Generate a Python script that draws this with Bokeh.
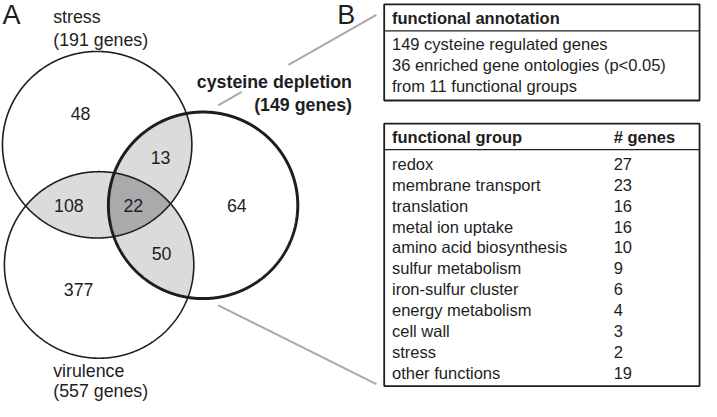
import numpy as np
from bokeh.plotting import figure
from bokeh.models import Range1d
from bokeh.core.properties import value
from bokeh.embed import file_html
from bokeh.resources import INLINE

# ---------------- data ----------------
set_names = ["stress", "virulence", "cysteine depletion"]
set_sizes = [191, 557, 149]
region_names = ["stress only", "stress & cysteine", "stress & virulence",
                "all three", "cysteine only", "virulence & cysteine", "virulence only"]
region_counts = [48, 13, 108, 22, 64, 50, 377]
annotation_title = "functional annotation"
annotation_lines = ["149 cysteine regulated genes",
                    "36 enriched gene ontologies (p<0.05)",
                    "from 11 functional groups"]
group_header = ["functional group", "# genes"]
groups = ["redox", "membrane transport", "translation", "metal ion uptake",
          "amino acid biosynthesis", "sulfur metabolism", "iron-sulfur cluster",
          "energy metabolism", "cell wall", "stress", "other functions"]
group_genes = [27, 23, 16, 16, 10, 9, 6, 4, 3, 2, 19]

# ---------------- layout ----------------
FONT = value("Liberation Sans")
INK = "#1e1e1e"
LIGHT = "#dbdbdc"
DARK = "#aaaaac"
LINKGRAY = "#a9a9a9"

# circle geometry (stress, virulence, cysteine)
centers = [(98.0, 150.0), (100.0, 275.0), (206.5, 213.0)]
R = 97.0

p = figure(width=701, height=401, output_backend="svg", toolbar_location=None,
           x_range=Range1d(-1, 717), y_range=Range1d(417, 0), min_border=0)
p.axis.visible = False
p.grid.visible = False
p.outline_line_color = None
p.background_fill_color = "white"
p.border_fill_color = "white"

theta = np.linspace(0, 2 * np.pi, 1440, endpoint=False)


def circle_pts(i):
    cx, cy = centers[i]
    return cx + R * np.cos(theta), cy + R * np.sin(theta)


def region(idx):
    xs, ys = [], []
    for i in idx:
        px, py = circle_pts(i)
        keep = np.ones_like(px, dtype=bool)
        for j in idx:
            if j == i:
                continue
            cx, cy = centers[j]
            keep &= (px - cx) ** 2 + (py - cy) ** 2 <= R * R + 0.5
        xs.append(px[keep]); ys.append(py[keep])
    xs = np.concatenate(xs); ys = np.concatenate(ys)
    mx, my = xs.mean(), ys.mean()
    order = np.argsort(np.arctan2(ys - my, xs - mx))
    return xs[order], ys[order]


for pair in [(0, 2), (0, 1), (1, 2)]:
    rx, ry = region(pair)
    p.patch(rx, ry, fill_color=LIGHT, line_color=None)
rx, ry = region((0, 1, 2))
p.patch(rx, ry, fill_color=DARK, line_color=None)

widths = [1.6, 1.6, 3.0]
for i in range(3):
    cx, cy = circle_pts(i)
    p.line(np.append(cx, cx[0]), np.append(cy, cy[0]), line_color=INK,
           line_width=widths[i])

VF = value("17.8px")

# region counts
region_x = [81, 163, 69, 135, 241, 164, 79]
region_y = [117, 163, 213, 213, 213, 263, 301]
p.text(region_x, region_y, text=[str(c) for c in region_counts], text_align="center",
       text_baseline="middle", text_font=FONT, text_font_size=VF, text_color=INK)

# set labels
p.text([53, 53], [17, 41], text=[set_names[0], f"({set_sizes[0]} genes)"],
       text_align="left", text_baseline="middle", text_font=FONT,
       text_font_size=VF, text_color=INK)
p.text([53, 53], [385, 406], text=[set_names[1], f"({set_sizes[1]} genes)"],
       text_align="left", text_baseline="middle", text_font=FONT,
       text_font_size=VF, text_color=INK)
p.text([359, 359], [85, 109], text=[set_names[2], f"({set_sizes[2]} genes)"],
       text_align="right", text_baseline="middle", text_font=FONT,
       text_font_size=VF, text_font_style="bold", text_color=INK)

# panel letters
p.text([1, 344], [15, 15], text=["A", "B"], text_align="left", text_baseline="middle",
       text_font=FONT, text_font_size=value("27px"), text_color=INK)

# connector lines (upper one interrupted by the bold label)
p.segment(x0=[222, 294, 222], y0=[109, 67, 317], x1=[246, 384, 384], y1=[95, 15, 399],
          line_color=LINKGRAY, line_width=2)

# ---------------- tables ----------------
BL, BR = 392, 715
TF = value("16.5px")

# box 1
p.quad(left=[BL], right=[BR], top=[4], bottom=[104], fill_color="white",
       line_color=INK, line_width=1.8)
p.segment(x0=[BL], y0=[31.5], x1=[BR], y1=[31.5], line_color=INK, line_width=1.2)
p.text([400], [18], text=[annotation_title], text_align="left", text_baseline="middle",
       text_font=FONT, text_font_size=TF, text_font_style="bold", text_color=INK)
p.text([400] * 3, [45.5, 67, 88.5], text=annotation_lines, text_align="left",
       text_baseline="middle", text_font=FONT, text_font_size=TF, text_color=INK)

# box 2
top2, div2, bot2 = 128, 155, 401
p.quad(left=[BL], right=[BR], top=[top2], bottom=[bot2], fill_color="white",
       line_color=INK, line_width=1.8)
p.segment(x0=[BL], y0=[div2], x1=[BR], y1=[div2], line_color=INK, line_width=1.2)
p.text([400, 627], [141.5, 141.5], text=group_header, text_align="left",
       text_baseline="middle", text_font=FONT, text_font_size=TF,
       text_font_style="bold", text_color=INK)
row_y = [170 + 21.7 * i for i in range(len(groups))]
p.text([400] * len(groups), row_y, text=groups, text_align="left",
       text_baseline="middle", text_font=FONT, text_font_size=TF, text_color=INK)
p.text([627] * len(groups), row_y, text=[str(g) for g in group_genes],
       text_align="left", text_baseline="middle", text_font=FONT,
       text_font_size=TF, text_color=INK)

open("out.html", "w").write(file_html(p, INLINE))
